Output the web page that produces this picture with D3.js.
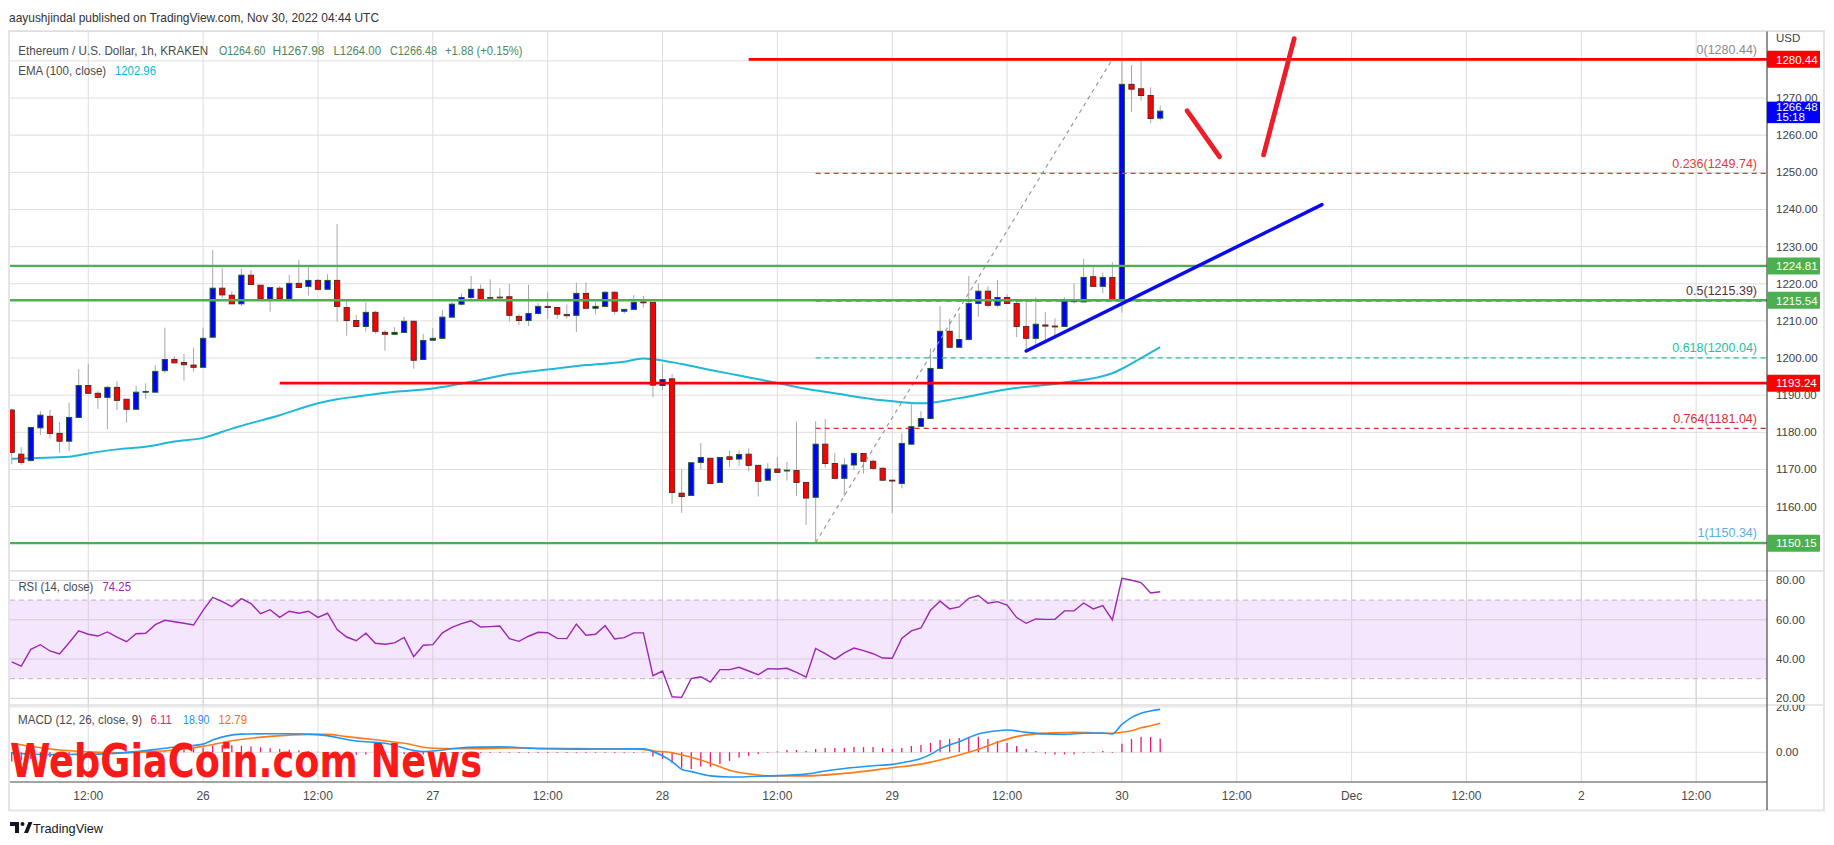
<!DOCTYPE html>
<html><head><meta charset="utf-8">
<script src="https://cdn.jsdelivr.net/npm/d3@7"></script>
<style>
body{margin:0;background:#fff;}
svg{display:block;font-family:"Liberation Sans",Arial,sans-serif;}
</style>
</head><body>
<svg id="c" width="1834" height="845"></svg>
<script>
// ---------- DATA ----------
const startUTC = Date.UTC(2022,10,25,4); // first candle: 25 Nov 04:00 UTC, hourly
const opens = [1186.0,1174.1,1172.4,1181.2,1184.3,1179.7,1177.6,1184.0,1192.6,1190.5,
1189.4,1192.1,1188.9,1186.2,1190.9,1190.8,1196.6,1199.6,1198.8,1198.1,
1197.5,1205.6,1218.8,1216.9,1214.6,1222.3,1219.6,1215.9,1218.8,1215.9,
1220.1,1219.3,1220.9,1218.5,1220.9,1213.6,1210.1,1208.5,1212.3,1206.9,
1206.4,1206.9,1209.9,1199.6,1204.8,1205.3,1211.0,1214.5,1216.3,1218.5,
1216.2,1216.3,1216.5,1211.2,1210.1,1212.0,1213.9,1213.6,1211.7,1211.5,
1217.4,1213.4,1213.9,1217.7,1212.6,1213.1,1215.1,1215.0,1192.6,1194.4,
1163.6,1163.0,1171.9,1173.0,1166.5,1173.4,1172.8,1174.1,1171.1,1167.1,
1170.1,1169.7,1169.7,1166.5,1162.5,1176.8,1171.6,1167.6,1171.2,1174.3,
1172.2,1170.3,1167.1,1166.2,1176.8,1181.6,1183.7,1197.2,1207.2,1202.9,
1205.0,1214.7,1218.0,1214.2,1216.3,1214.7,1208.5,1205.3,1208.9,1208.6,
1208.5,1215.4,1215.1,1221.9,1219.3,1221.7,1215.6,1273.7,1272.5,1270.7,1264.6];
const highs = [1186.4,1176.0,1181.3,1185.7,1186.0,1182.8,1188.0,1197.0,1198.4,1191.1,
1192.5,1193.8,1188.9,1192.5,1193.2,1198.1,1208.2,1200.5,1201.1,1202.8,
1208.2,1229.1,1224.2,1218.0,1224.0,1223.7,1219.6,1219.0,1219.4,1222.4,
1226.4,1224.6,1221.3,1222.6,1236.1,1215.6,1211.6,1215.0,1212.7,1207.5,
1208.3,1211.1,1209.9,1206.5,1208.1,1212.9,1215.1,1217.4,1222.1,1219.8,
1221.2,1218.8,1219.9,1211.8,1219.7,1214.8,1217.8,1213.6,1214.5,1220.3,
1220.3,1215.0,1218.0,1218.0,1213.1,1217.0,1216.7,1215.0,1198.4,1195.7,
1170.2,1172.0,1177.1,1173.0,1173.2,1175.0,1175.1,1175.7,1171.1,1171.7,
1173.3,1172.0,1182.9,1166.5,1183.0,1183.6,1174.4,1173.0,1174.6,1174.3,
1172.7,1170.7,1167.1,1179.7,1188.0,1185.7,1202.6,1214.0,1210.6,1212.0,
1222.1,1220.1,1219.3,1221.0,1217.1,1215.3,1215.3,1216.3,1212.4,1210.7,
1216.3,1220.1,1226.7,1224.6,1223.0,1225.8,1280.0,1278.9,1280.44,1272.9,1267.98];
const lows = [1171.4,1171.2,1172.1,1179.3,1178.3,1174.5,1175.0,1184.0,1190.5,1186.3,
1180.9,1186.0,1182.6,1186.2,1189.0,1190.8,1196.0,1198.7,1193.9,1196.3,
1197.5,1205.6,1216.2,1214.6,1214.0,1219.8,1215.6,1212.5,1215.9,1215.9,
1219.0,1216.8,1218.5,1218.5,1209.8,1206.0,1208.5,1207.1,1206.6,1202.0,
1206.4,1206.9,1197.1,1199.6,1204.8,1205.3,1211.0,1214.1,1215.4,1215.8,
1215.8,1215.8,1209.8,1208.9,1208.6,1211.7,1210.5,1210.6,1210.6,1207.0,
1213.4,1211.7,1213.9,1211.7,1212.0,1213.1,1213.6,1189.4,1191.4,1160.8,
1158.3,1163.0,1170.1,1166.2,1166.5,1170.6,1171.0,1169.5,1162.7,1167.1,
1169.2,1167.0,1162.9,1155.1,1150.34,1170.5,1167.6,1162.7,1169.8,1168.9,
1169.8,1167.1,1158.2,1164.9,1176.8,1181.6,1183.7,1197.2,1202.9,1202.9,
1204.7,1211.1,1213.6,1213.6,1214.7,1205.6,1202.0,1203.4,1203.9,1205.3,
1208.5,1214.7,1215.1,1219.3,1217.4,1215.6,1212.2,1266.3,1269.3,1263.2,1264.0];
const closes = [1174.6,1171.9,1181.3,1184.6,1179.7,1177.6,1184.0,1192.6,1190.5,1189.4,
1192.1,1188.6,1186.2,1190.8,1191.0,1196.4,1199.6,1198.7,1198.2,1197.5,
1205.3,1218.8,1217.0,1214.6,1222.3,1219.8,1215.9,1219.0,1215.9,1220.1,
1219.0,1220.9,1218.5,1220.9,1213.9,1210.1,1208.5,1212.3,1207.2,1206.4,
1206.9,1209.9,1199.4,1204.7,1205.3,1211.0,1214.5,1216.3,1218.5,1215.8,
1216.3,1216.4,1211.5,1210.1,1212.0,1213.9,1213.6,1211.8,1211.4,1217.4,
1213.4,1213.9,1217.7,1212.6,1213.1,1215.0,1214.9,1192.7,1194.2,1163.8,
1162.7,1171.8,1173.2,1166.2,1173.2,1172.7,1174.0,1171.1,1166.8,1170.1,
1169.2,1169.8,1166.5,1162.3,1176.8,1171.6,1167.6,1171.2,1174.3,1172.2,
1170.3,1167.1,1166.9,1177.0,1181.5,1183.7,1197.2,1207.2,1202.9,1205.0,
1214.7,1218.0,1214.2,1216.3,1214.7,1208.5,1205.3,1209.1,1208.6,1208.5,
1215.3,1215.2,1221.7,1219.3,1221.7,1215.6,1273.7,1272.4,1270.7,1264.5,1266.48];

// EMA(100): [candle number, value]
const emaPoints = [[1,1172.9],[7,1173.4],[9,1174.3],[12,1175.4],[15,1176.1],[18,1177.5],[21,1178.5],
[24,1181.0],[29,1184.6],[33,1187.8],[35,1188.9],[37,1189.6],[41,1190.9],[45,1191.8],[49,1193.6],[53,1195.7],
[57,1196.9],[61,1198.1],[65,1199.0],[67,1199.9],[68,1199.7],[71,1198.4],[74,1196.8],[77,1195.3],
[81,1193.3],[84,1191.7],[87,1190.5],[92,1188.6],[94,1188.1],[96,1187.8],[100,1189.2],[105,1191.6],
[111,1193.4],[116,1195.9],[117,1197.1],[119,1200.0],[121,1202.96]];

const rsiValues = [38.6,36.4,44.9,47.3,44.1,42.6,48.3,54.3,52.6,51.7,
53.8,51.2,48.8,52.9,53.1,57.5,59.7,59.0,58.2,57.3,
64.8,71.4,69.2,66.7,70.7,68.2,63.1,65.1,61.2,64.3,
63.3,64.3,61.2,63.3,55.0,51.2,49.3,53.1,48.0,47.5,
48.2,51.0,41.2,47.0,47.3,53.3,56.1,58.0,59.5,56.3,
56.5,56.8,50.4,49.0,51.6,53.6,53.4,50.5,50.4,57.8,
52.1,52.6,57.0,50.2,50.9,53.3,53.3,31.5,33.9,20.8,
20.5,30.0,31.0,28.3,34.6,34.6,35.8,33.9,32.0,35.1,
34.9,35.3,33.2,30.8,45.4,42.7,39.8,43.1,45.6,44.3,
42.7,40.5,40.4,50.5,54.3,55.8,64.8,69.4,65.5,66.5,
70.9,72.3,68.4,69.2,67.5,61.1,58.2,60.4,60.2,60.2,
64.5,64.5,68.5,65.5,67.2,59.9,81.1,80.1,78.9,73.6,74.25];

const macdPoints = [[1,-0.3],[5,-1.0],[10,-0.8],[14,0.3],[17,1.8],[21,3.6],[22,5.4],[25,8.0],[28,8.2],
[30,8.2],[33,7.8],[37,5.0],[40,4.0],[44,0.3],[46,1.0],[48,2.0],[50,2.3],[52,2.4],[56,1.6],[60,1.4],
[67,1.5],[68,0.3],[69,-1.5],[70,-4.1],[71,-7.5],[72,-8.5],[74,-10.4],[76,-10.9],[80,-10.4],[84,-9.6],
[86,-8.2],[88,-7.1],[91,-5.9],[93,-5.3],[94,-4.6],[96,-2.7],[97,-0.9],[98,1.5],[100,4.7],[102,8.1],
[104,9.5],[105,9.8],[107,8.8],[109,8.1],[111,7.9],[113,8.4],[115,8.5],[116,8.1],[117,12.3],[118,15.3],
[119,17.2],[120,18.2],[121,18.9]];
const signalPoints = [[1,4.0],[6,1.0],[12,-0.2],[15,0.2],[18,1.0],[21,2.6],[24,5.1],[28,7.0],[32,7.9],
[34,7.9],[36,6.9],[39,5.5],[42,4.0],[45,1.8],[48,1.6],[54,1.9],[63,1.5],[67,1.3],[68,0.7],[70,-0.2],
[72,-2.2],[74,-4.8],[76,-7.9],[79,-10.0],[80,-10.4],[84,-10.4],[88,-9.3],[93,-6.8],[96,-5.2],[98,-3.4],
[100,-1.2],[102,1.3],[104,4.4],[106,6.9],[108,8.1],[110,8.6],[112,8.8],[114,8.6],[116,8.4],[117,8.8],
[118,9.5],[119,10.8],[120,11.7],[121,12.79]];
const histValues = [-4.0,-3.6,-3.0,-2.5,-2.1,-1.8,-1.5,-0.9,-0.6,-0.4,
-0.3,-0.3,-0.2,0.1,0.3,0.6,1.0,1.3,1.5,1.7,
2.1,3.0,3.2,3.1,2.9,2.6,2.2,1.8,1.5,1.1,
0.8,0.5,0.2,-0.3,-0.8,-1.0,-1.1,-1.0,-1.2,-1.2,
-1.0,-0.9,-1.3,-1.0,-0.7,-0.4,-0.3,-0.3,-0.3,-0.3,
-0.3,-0.3,-0.3,-0.3,-0.3,-0.3,-0.3,-0.3,-0.3,-0.3,
-0.3,-0.3,-0.3,-0.3,-0.3,-0.3,-0.2,-1.9,-2.9,-4.8,
-6.8,-7.3,-6.3,-6.3,-5.1,-3.8,-2.3,-1.5,-0.7,-0.3,
0.4,1.0,1.0,0.6,1.5,1.9,1.9,1.9,2.3,2.3,
2.3,1.9,1.5,1.9,2.8,3.2,4.1,5.4,5.9,6.3,
6.9,6.9,5.9,5.0,4.1,2.8,1.5,0.6,-0.6,-1.0,
-0.9,-0.9,-0.3,-0.3,0.6,-0.3,3.8,5.9,6.8,6.8,6.11];

const priceTicks = [1160,1170,1180,1190,1200,1210,1220,1230,1240,1250,1260,1270];
const rsiTicks = [80,60,40,20];
const macdTicks = [20,0];
// horizontal levels drawn by the author: [price, from candle#, colour]
const hLevels = [[1224.81,1,"#4caf50"],[1215.54,1,"#4caf50"],[1150.15,1,"#4caf50"],[1193.24,29,"#ff0000"],[1280.44,78,"#ff0000"]];
// fibonacci retracement
const fibLow = 1150.34, fibHigh = 1280.44, fibFrom = 85, fibTo = 116;
const fibRatios = [0,0.236,0.5,0.618,0.764,1];
const fibValues = [1280.44,1249.74,1215.39,1200.04,1181.04,1150.34];
const fibColors = ["#8a8a8a","#e53935","#5b2c3f","#22c39a","#d32f2f","#5aaee8"];
// trend line and arrows: [[candle#, price],[candle#, price]]
const trendLine = [[107.0,1201.9],[137.9,1241.3]];
const arrowDown = [[123.8,1266.6],[127.2,1254.2]];
const arrowUp = [[131.8,1254.7],[135.0,1286.0]];
// right-axis price tags
const priceTags = [[1280.44,"1280.44","#ff0000"],[1224.81,"1224.81","#4caf50"],[1215.54,"1215.54","#4caf50"],[1193.24,"1193.24","#ff0000"],[1150.15,"1150.15","#4caf50"]];

// ---------- LAYOUT ----------
const svg = d3.select("#c");
const L = 10, R = 1767, AXR = 1823;
const mainTop = 31.6, mainBot = 571, rsiBot = 705, macdBot = 782, axisBot = 810;
const HOUR = 3600e3;
const tOf = i => new Date(startUTC + (i-1)*HOUR);
const x = d3.scaleUtc().domain([new Date(startUTC - 0.1776*HOUR), new Date(startUTC + 183.4*HOUR)]).range([L,R]);
const y = d3.scaleLinear().domain([1142.65,1287.9]).range([mainBot,mainTop]);
const yr = d3.scaleLinear().domain([16.6,84.8]).range([rsiBot,mainBot]);
const ym = d3.scaleLinear().domain([-13.08,20.84]).range([macdBot,rsiBot]);

const defs = svg.append("defs");
function clip(id,y0,y1){defs.append("clipPath").attr("id",id).append("rect").attr("x",L).attr("y",y0).attr("width",R-L).attr("height",y1-y0);}
clip("cm",mainTop,mainBot); clip("cr",mainBot,rsiBot); clip("cc",rsiBot,macdBot);
defs.append("clipPath").attr("id","cax").append("rect").attr("x",R).attr("y",rsiBot).attr("width",AXR-R).attr("height",macdBot-rsiBot);

const gridC = "#dedede";
// frame
svg.append("rect").attr("x",L-1).attr("y",mainTop-0.6).attr("width",AXR-L+2).attr("height",axisBot-mainTop+1)
  .attr("fill","#fff").attr("stroke","#e4e4ec").attr("stroke-width",2);

// header
svg.append("text").attr("x",9).attr("y",22).attr("font-size",13).attr("fill","#333")
  .attr("textLength",370).attr("lengthAdjust","spacingAndGlyphs")
  .text("aayushjindal published on TradingView.com, Nov 30, 2022 04:44 UTC");

// vertical grid
const tTicks = x.ticks(d3.utcHour.every(12)).filter(d => x(d) > L+2 && x(d) < R-2);
svg.append("g").selectAll("line").data(tTicks).join("line")
  .attr("x1",d=>x(d)).attr("x2",d=>x(d)).attr("y1",mainTop).attr("y2",macdBot)
  .attr("stroke",gridC).attr("stroke-width",1);
// price grid
svg.append("g").selectAll("line").data(priceTicks.concat([1280])).join("line")
  .attr("x1",L).attr("x2",R).attr("y1",d=>y(d)).attr("y2",d=>y(d)).attr("stroke",gridC);

// ---------- MAIN PANE ----------
const gm = svg.append("g").attr("clip-path","url(#cm)");
// EMA
gm.append("path").datum(emaPoints).attr("fill","none").attr("stroke","#1fb8d6").attr("stroke-width",2)
  .attr("d",d3.line().x(d=>x(tOf(d[0]))).y(d=>y(d[1])).curve(d3.curveMonotoneX));
// candles
const candles = opens.map((o,k)=>({i:k+1,o,h:highs[k],l:lows[k],c:closes[k]}));
const cg = gm.append("g");
cg.selectAll("line").data(candles).join("line")
  .attr("x1",d=>x(tOf(d.i))).attr("x2",d=>x(tOf(d.i)))
  .attr("y1",d=>y(d.h)).attr("y2",d=>y(d.l)).attr("stroke","#a8a8a8").attr("stroke-width",1);
cg.selectAll("rect").data(candles).join("rect")
  .attr("x",d=>x(tOf(d.i))-2.6).attr("width",5.2)
  .attr("y",d=>y(Math.max(d.o,d.c)))
  .attr("height",d=>Math.max(0.8,Math.abs(y(d.o)-y(d.c))))
  .attr("fill",d=>d.c>=d.o?"#0000ff":"#ff0000")
  .attr("stroke",d=>d.c>=d.o?"#1e5a2c":"#5a2a22").attr("stroke-width",1);

// fib lines
const fibX0 = x(tOf(fibFrom));
fibValues.forEach((v,k)=>{
  const dash = k===0||k===5 ? null : (k===2 ? "6,4" : "5,4");
  gm.append("line").attr("x1",fibX0).attr("x2",R).attr("y1",y(v)).attr("y2",y(v))
    .attr("stroke",fibColors[k]).attr("stroke-width",1.2).attr("stroke-dasharray",dash);
});
gm.append("line").attr("x1",x(tOf(fibFrom))).attr("y1",y(fibLow)).attr("x2",x(tOf(fibTo))).attr("y2",y(fibHigh))
  .attr("stroke","#9a9a9a").attr("stroke-width",1.2).attr("stroke-dasharray","4,4");

// horizontal levels
hLevels.forEach(([p,from,col])=>{
  gm.append("line").attr("x1",from<=1?L:x(tOf(from))).attr("x2",R).attr("y1",y(p)).attr("y2",y(p))
    .attr("stroke",col).attr("stroke-width",col==="#ff0000"?2.8:2.4);
});
// trend line & arrows
const ln = d3.line().x(d=>x(tOf(d[0]))).y(d=>y(d[1]));
gm.append("path").attr("d",ln(trendLine)).attr("stroke","#0a0af0").attr("stroke-width",3.5).attr("fill","none").attr("stroke-linecap","round");
[arrowDown,arrowUp].forEach(a=>gm.append("path").attr("d",ln(a)).attr("stroke","#ee1d2a").attr("stroke-width",4.8).attr("fill","none").attr("stroke-linecap","round"));

// fib labels
const fibText = ["0(1280.44)","0.236(1249.74)","0.5(1215.39)","0.618(1200.04)","0.764(1181.04)","1(1150.34)"];
fibValues.forEach((v,k)=>{
  svg.append("text").attr("x",1757).attr("y",y(v)-5.5).attr("text-anchor","end").attr("font-size",12.5)
    .attr("fill",fibColors[k]).text(fibText[k]);
});

// legend
function seg(g,xp,yp,txt,col,w,fs){g.append("text").attr("x",xp).attr("y",yp).attr("font-size",fs||12).attr("fill",col)
  .attr("textLength",w).attr("lengthAdjust","spacingAndGlyphs").text(txt);}
const lg = svg.append("g");
const vc = "#4a8a5a";
seg(lg,18.2,55,"Ethereum / U.S. Dollar, 1h, KRAKEN","#4a4a4a",190);
seg(lg,219,55,"O1264.60",vc,46.5);
seg(lg,272.5,55,"H1267.98",vc,52);
seg(lg,333.5,55,"L1264.00",vc,47.5);
seg(lg,390,55,"C1266.48",vc,47);
seg(lg,445,55,"+1.88 (+0.15%)",vc,77.5);
seg(lg,18.2,75,"EMA (100, close)","#4a4a4a",88);
seg(lg,115,75,"1202.96","#00bcd4",41);

// ---------- RSI PANE ----------
const gr = svg.append("g").attr("clip-path","url(#cr)");
gr.append("rect").attr("x",L).attr("width",R-L).attr("y",yr(70)).attr("height",yr(30)-yr(70)).attr("fill","#f3e6fd");
gr.selectAll("line.g").data(rsiTicks).join("line").attr("x1",L).attr("x2",R).attr("y1",d=>yr(d)).attr("y2",d=>yr(d)).attr("stroke","#d4cdd8");
[70,30].forEach(v=>gr.append("line").attr("x1",L).attr("x2",R).attr("y1",yr(v)).attr("y2",yr(v)).attr("stroke","#b7b4ba").attr("stroke-dasharray","5,4"));
tTicks.forEach(d=>gr.append("line").attr("x1",x(d)).attr("x2",x(d)).attr("y1",mainBot).attr("y2",rsiBot).attr("stroke","#d6d2da"));
gr.append("path").datum(rsiValues).attr("fill","none").attr("stroke","#9c27b0").attr("stroke-width",1.4)
  .attr("d",d3.line().x((d,k)=>x(tOf(k+1))).y(d=>yr(d)));
seg(svg,18.4,591,"RSI (14, close)","#4a4a4a",75);
seg(svg,102.5,591,"74.25","#9c27b0",28.5);

// ---------- MACD PANE ----------
const gc = svg.append("g").attr("clip-path","url(#cc)");
gc.append("line").attr("x1",L).attr("x2",R).attr("y1",ym(0)).attr("y2",ym(0)).attr("stroke",gridC);
gc.append("line").attr("x1",L).attr("x2",R).attr("y1",ym(20)).attr("y2",ym(20)).attr("stroke",gridC);
gc.selectAll("line.h").data(histValues).join("line").attr("class","h")
  .attr("x1",(d,k)=>x(tOf(k+1))).attr("x2",(d,k)=>x(tOf(k+1)))
  .attr("y1",ym(0)).attr("y2",d=>ym(d)).attr("stroke","#f0186e").attr("stroke-width",1.3);
const lm = d3.line().x(d=>x(tOf(d[0]))).y(d=>ym(d[1])).curve(d3.curveMonotoneX);
gc.append("path").datum(signalPoints).attr("fill","none").attr("stroke","#ff7a1a").attr("stroke-width",1.6).attr("d",lm);
gc.append("path").datum(macdPoints).attr("fill","none").attr("stroke","#2196f3").attr("stroke-width",1.6).attr("d",lm);
seg(svg,18,724,"MACD (12, 26, close, 9)","#4a4a4a",124);
seg(svg,150.5,724,"6.11","#e91e63",21.5);
seg(svg,183,724,"18.90","#2196f3",26.5);
seg(svg,218.5,724,"12.79","#ff6d00",28.5);

// watermark
svg.append("text").attr("x",10).attr("y",777).attr("font-family","'DejaVu Sans Condensed','DejaVu Sans',sans-serif")
  .attr("font-weight","bold").attr("font-size",46).attr("fill","#fb1a1a")
  .attr("textLength",472).attr("lengthAdjust","spacingAndGlyphs").text("WebGiaCoin.com News");

// ---------- SEPARATORS & AXES ----------
[[mainBot,"#cfcfcf"],[rsiBot,"#cfcfcf"]].forEach(([yy,c])=>svg.append("line").attr("x1",L).attr("x2",AXR).attr("y1",yy).attr("y2",yy).attr("stroke",c));
svg.append("line").attr("x1",L).attr("x2",AXR).attr("y1",mainTop).attr("y2",mainTop).attr("stroke","#dedede");
svg.append("line").attr("x1",L).attr("x2",R).attr("y1",macdBot).attr("y2",macdBot).attr("stroke","#4a4a4a").attr("stroke-width",1.2);
svg.append("line").attr("x1",R).attr("x2",R).attr("y1",mainTop).attr("y2",axisBot).attr("stroke","#4a4a4a").attr("stroke-width",1.2);

// time axis labels
const fmtT = d => d.getUTCHours()===12 ? "12:00" : (d.getUTCDate()===1 ? d3.utcFormat("%b")(d) : String(d.getUTCDate()));
svg.append("g").selectAll("text").data(tTicks).join("text")
  .attr("x",d=>x(d)).attr("y",799.5).attr("text-anchor","middle").attr("font-size",12).attr("fill","#4a4a4a").text(fmtT);

// price axis labels
const ax = svg.append("g").attr("font-size",11.5).attr("fill","#404040");
ax.append("text").attr("x",1776).attr("y",42).text("USD");
ax.selectAll("text.p").data(priceTicks).join("text").attr("class","p").attr("x",1776).attr("y",d=>y(d)+4).text(d=>d3.format(".2f")(d));
ax.selectAll("text.r").data(rsiTicks).join("text").attr("class","r").attr("x",1776).attr("y",d=>yr(d)+4).text(d=>d3.format(".2f")(d));
svg.append("g").attr("clip-path","url(#cax)").attr("font-size",11.5).attr("fill","#404040")
  .selectAll("text").data(macdTicks).join("text").attr("x",1776).attr("y",d=>ym(d)+4).text(d=>d3.format(".2f")(d));

// price tags
priceTags.forEach(([v,t,col])=>{
  svg.append("rect").attr("x",R).attr("y",y(v)-8.5).attr("width",53).attr("height",17).attr("fill",col).attr("rx",1);
  svg.append("text").attr("x",1776).attr("y",y(v)+4.2).attr("font-size",11.5).attr("fill","#fff").text(t);
});
const lastC = closes[closes.length-1];
svg.append("rect").attr("x",R).attr("y",y(lastC)-9.5).attr("width",53).attr("height",21.5).attr("fill","#0000ff");
svg.append("text").attr("x",1776).attr("y",y(lastC)-0.5).attr("font-size",11.5).attr("fill","#fff").text(d3.format(".2f")(lastC));
svg.append("text").attr("x",1776).attr("y",y(lastC)+9.8).attr("font-size",11.5).attr("fill","#fff").text("15:18");

// TradingView logo
const lgG = svg.append("g").attr("fill","#131722");
lgG.append("path").attr("d","M10,822 h9 v11 h-4 v-7 h-5 z");
lgG.append("circle").attr("cx",22.5).attr("cy",824).attr("r",2);
lgG.append("path").attr("d","M24,833 L28.5,822 h4 l-4.5,11 z");
svg.append("text").attr("x",33).attr("y",832.5).attr("font-size",13).attr("fill","#131722").attr("textLength",70).attr("lengthAdjust","spacingAndGlyphs").text("TradingView");
</script>
</body></html>
